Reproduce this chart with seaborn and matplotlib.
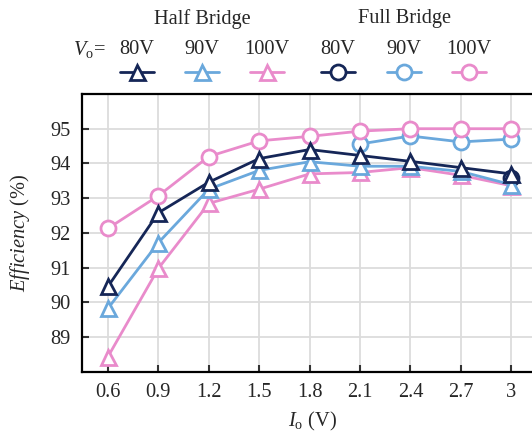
import numpy as np
import pandas as pd
import matplotlib
matplotlib.use("Agg")
import matplotlib.pyplot as plt
from matplotlib.lines import Line2D
import seaborn as sns

# Output current (A) sample points
current = [0.6, 0.9, 1.2, 1.5, 1.8, 2.1, 2.4, 2.7, 3.0]
x_ticklabels = ["0.6", "0.9", "1.2", "1.5", "1.8", "2.1", "2.4", "2.7", "3"]

# Half-bridge efficiency (%)
hb_80v = [90.46, 92.58, 93.46, 94.14, 94.40, 94.23, 94.06, 93.88, 93.70]
hb_90v = [89.83, 91.72, 93.26, 93.80, 94.05, 93.92, 93.92, 93.77, 93.39]
hb_100v = [88.44, 90.98, 92.85, 93.26, 93.70, 93.74, 93.88, 93.66, 93.36]

# Full-bridge efficiency (%), only where measured
fb_80v_x = [3.0]
fb_80v = [93.58]
fb_90v_x = [2.1, 2.4, 2.7, 3.0]
fb_90v = [94.56, 94.79, 94.62, 94.70]
fb_100v = [92.13, 93.07, 94.20, 94.65, 94.78, 94.93, 95.00, 95.00, 95.00]

voltages = ["80V", "90V", "100V"]
colors = ["#152657", "#6aa8dc", "#e98bcb"]

sns.set_style("ticks")
plt.rcParams["font.family"] = ["Liberation Serif", "DejaVu Serif"]
plt.rcParams["mathtext.fontset"] = "custom"
plt.rcParams["mathtext.rm"] = "Liberation Serif"
plt.rcParams["mathtext.it"] = "Liberation Serif:italic"
FS = 14.7
plt.rcParams["font.size"] = FS

fig = plt.figure(figsize=(5.32, 4.33), dpi=100)
ax = fig.add_axes([0.154, 0.141, 0.866, 0.642])

lw = 2.0
ms_tri = 10.8
ms_circ = 10.8
mew = 2.0

full = [(fb_80v_x, fb_80v), (fb_90v_x, fb_90v), (current, fb_100v)]
for (xs, ys), c in zip(full, colors):
    sns.lineplot(x=xs, y=ys, ax=ax, color=c, lw=lw, marker="o", ms=ms_circ,
                 markerfacecolor="white", markeredgecolor=c, markeredgewidth=mew,
                 zorder=3)

half = [hb_100v, hb_90v, hb_80v]
for ys, c in zip(half, colors[::-1]):
    sns.lineplot(x=current, y=ys, ax=ax, color=c, lw=lw, marker="^", ms=ms_tri,
                 markerfacecolor="white", markeredgecolor=c, markeredgewidth=mew,
                 zorder=4)

ax.set_xlim(0.445, 3.187)
ax.set_ylim(88, 96)
ax.set_xticks(current)
ax.set_xticklabels(x_ticklabels)
ax.set_yticks([89, 90, 91, 92, 93, 94, 95])

ax.grid(True, color="#dcdcdc", lw=1.3)
ax.set_axisbelow(True)
for side in ["left", "top", "bottom"]:
    ax.spines[side].set_linewidth(1.6)
    ax.spines[side].set_color("black")
ax.spines["right"].set_visible(False)
ax.tick_params(axis="both", direction="in", length=5, width=1.5, color="#333333",
               labelsize=FS, pad=8)
ax.tick_params(axis="y", pad=8)

ax.set_xlabel(r"$I_\mathrm{o}$ (V)", fontsize=FS, labelpad=6)
ax.set_ylabel(r"$Efficiency$ (%)", fontsize=FS, labelpad=13)

# Legend drawn above the axes: group titles, voltage labels and sample handles
W, H = 532.0, 433.0
fig.text(202 / W, 1 - 19 / H, "Half Bridge", ha="center", va="center", fontsize=FS)
fig.text(405 / W, 1 - 19 / H, "Full Bridge", ha="center", va="center", fontsize=FS)
fig.text(89 / W, 1 - 50 / H, r"$V_\mathrm{o}$=", ha="center", va="center", fontsize=FS)

label_x = [137, 202, 267, 338, 404, 469]
markers = ["^", "^", "^", "o", "o", "o"]
for i, (lx, m) in enumerate(zip(label_x, markers)):
    c = colors[i % 3]
    fig.text(lx / W, 1 - 50 / H, voltages[i % 3], ha="center", va="center", fontsize=FS)
    fig.add_artist(Line2D([(lx - 17) / W, (lx + 17) / W], [1 - 72 / H, 1 - 72 / H],
                          transform=fig.transFigure, color=c, lw=lw))
    fig.add_artist(Line2D([lx / W], [1 - 72 / H], transform=fig.transFigure,
                          marker=m, ms=ms_tri, color=c, markerfacecolor="white",
                          markeredgecolor=c, markeredgewidth=mew, lw=0))

fig.savefig("out.png", dpi=100)
